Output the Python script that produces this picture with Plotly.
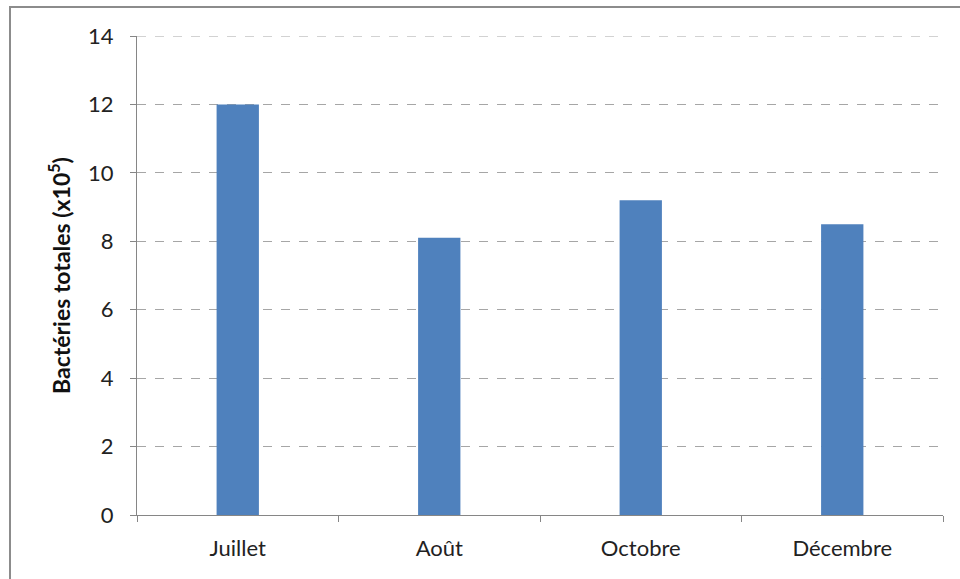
import plotly.graph_objects as go

# Monthly totals of bacteria (units of 10^5)
months = ["Juillet", "Août", "Octobre", "Décembre"]
totals = [12.0, 8.1, 9.2, 8.5]
y_ticks = [0, 2, 4, 6, 8, 10, 12, 14]

BAR_COLOR = "#4F81BD"
AXIS_COLOR = "#868686"
GRID_COLOR = "#A6A6A6"
FONT = "Lato, 'Open Sans', sans-serif"

# Plot area geometry in pixels
W, H = 960, 579
L, R, T, B = 137, 17, 36, 64
pw, ph = W - L - R, H - T - B

fig = go.Figure(
    go.Bar(
        x=months,
        y=totals,
        marker=dict(color=BAR_COLOR, line=dict(width=0)),
        width=0.21,
    )
)

fig.update_layout(
    width=W,
    height=H,
    margin=dict(l=L, r=R, t=T, b=B),
    paper_bgcolor="white",
    plot_bgcolor="white",
    showlegend=False,
    font=dict(family=FONT, color="#222222", size=22),
)

fig.update_xaxes(
    showline=True,
    linecolor=AXIS_COLOR,
    linewidth=1,
    ticks="outside",
    tickson="boundaries",
    ticklen=6,
    tickcolor=AXIS_COLOR,
    showgrid=False,
    tickfont=dict(size=22),
    ticklabelstandoff=14,
)

fig.update_yaxes(
    range=[0, max(y_ticks)],
    tickvals=y_ticks,
    showline=True,
    linecolor=AXIS_COLOR,
    linewidth=1,
    ticks="outside",
    ticklen=6,
    tickcolor=AXIS_COLOR,
    showgrid=True,
    gridcolor=GRID_COLOR,
    griddash="dash",
    gridwidth=1,
    zeroline=False,
    tickfont=dict(size=22),
    ticklabelstandoff=12,
    title=dict(
        text="<b>Bactéries totales (x10<sup>5</sup>)</b>",
        font=dict(size=23, color="#111111"),
        standoff=11,
    ),
)

# Top gridline sits on the upper edge of the plot area
fig.add_shape(
    type="line",
    xref="paper",
    yref="y",
    x0=0,
    x1=1,
    y0=max(y_ticks),
    y1=max(y_ticks),
    line=dict(color=GRID_COLOR, width=1, dash="dash"),
    layer="below",
)

# Outer chart frame (top and left edges visible)
fig.add_shape(
    type="rect",
    xref="paper",
    yref="paper",
    x0=(10 - L) / pw,
    x1=(W + 40 - L) / pw,
    y0=(H - B - (H + 40)) / ph,
    y1=(H - B - 7) / ph,
    line=dict(color="#8C8C8C", width=2),
    fillcolor="rgba(0,0,0,0)",
    layer="below",
)

fig.write_html("out.html")
